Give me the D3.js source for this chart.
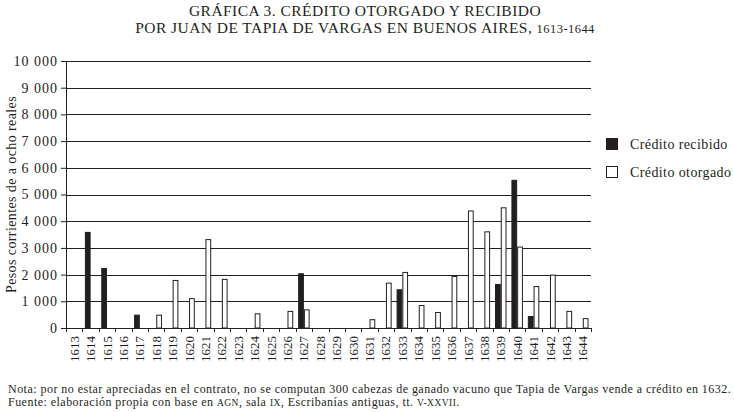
<!DOCTYPE html>
<html>
<head>
<meta charset="utf-8">
<script src="https://cdn.jsdelivr.net/npm/d3@7"></script>
<style>
  body { margin: 0; background: #fff; }
  svg text { font-family: "Liberation Serif", "DejaVu Serif", serif; fill: #231f20; }
</style>
</head>
<body>
<div id="chart"></div>
<script>
const years = ['1613', '1614', '1615', '1616', '1617', '1618', '1619', '1620', '1621', '1622', '1623',
  '1624', '1625', '1626', '1627', '1628', '1629', '1630', '1631', '1632', '1633', '1634', '1635',
  '1636', '1637', '1638', '1639', '1640', '1641', '1642', '1643', '1644']
const recibido = [0, 3600, 2250, 0, 500, 0, 0, 0, 0, 0, 0, 0, 0, 0, 2050, 0,
  0, 0, 0, 0, 1450, 0, 0, 0, 0, 0, 1650, 5550, 450, 0, 0, 0]
const otorgado = [0, 0, 0, 0, 0, 500, 1800, 1120, 3330, 1840, 0, 550, 0, 640, 700, 0,
  0, 0, 330, 1700, 2100, 860, 600, 1950, 4400, 3620, 4520, 3050, 1570, 2000, 640, 370]
const yTicks = [0, 1000, 2000, 3000, 4000, 5000, 6000, 7000, 8000, 9000, 10000]
const seriesNames = ['Crédito recibido', 'Crédito otorgado']

const ink = '#231f20'
const W = 734, H = 412
const margin = { top: 61, right: 143, bottom: 84, left: 66 }
const width = W - margin.left - margin.right
const height = H - margin.top - margin.bottom

const svg = d3.select('#chart').append('svg')
  .attr('width', W)
  .attr('height', H)

// title
const title = svg.append('text')
  .attr('text-anchor', 'middle')
  .style('font-size', '15.5px')
  .style('letter-spacing', '0.45px')
title.append('tspan').attr('x', 365).attr('y', 15.8).text('GRÁFICA 3. CRÉDITO OTORGADO Y RECIBIDO')
const t2 = title.append('tspan').attr('x', 365).attr('y', 33.2)
t2.append('tspan').text('POR JUAN DE TAPIA DE VARGAS EN BUENOS AIRES, ')
t2.append('tspan').style('font-size', '12.5px').text('1613-1644')

const g = svg.append('g')
  .attr('transform', 'translate(' + margin.left + ',' + margin.top + ')')

const x = d3.scaleBand()
  .domain(years)
  .range([0, width])
  .paddingInner(0.3)
  .paddingOuter(0.15)
const xSub = d3.scaleBand()
  .domain(seriesNames)
  .range([0, x.bandwidth()])
const y = d3.scaleLinear()
  .domain([0, 10000])
  .range([height, 0])

const loc = d3.formatLocale({ decimal: ',', thousands: ' ', grouping: [3], currency: ['', ''] })
const fmt = loc.format(',d')

// gridlines
g.append('g')
  .selectAll('line')
  .data(yTicks)
  .join('line')
  .attr('x1', 0)
  .attr('x2', width)
  .attr('y1', d => Math.round(y(d)) + 0.5)
  .attr('y2', d => Math.round(y(d)) + 0.5)
  .attr('stroke', ink)
  .attr('stroke-width', 1)

// Y axis
const yAxis = g.append('g')
  .call(d3.axisLeft(y).tickValues(yTicks).tickSize(5).tickPadding(3).tickFormat(fmt))
yAxis.attr('font-family', null)
yAxis.select('.domain').attr('stroke', ink).attr('d', 'M0.5,' + height + 'V0')
yAxis.selectAll('.tick line').attr('stroke', ink)
yAxis.selectAll('.tick text')
  .style('font-size', '14px')
  .style('letter-spacing', '1px')
  .attr('fill', ink)

svg.append('text')
  .attr('transform', 'translate(16,' + (margin.top + height / 2) + ') rotate(-90)')
  .attr('text-anchor', 'middle')
  .style('font-size', '14px')
  .style('letter-spacing', '0.4px')
  .text('Pesos corrientes de a ocho reales')

// X axis ticks at band boundaries
const step = x.step()
const bounds = years.map(d => x(d) - step * x.paddingInner() / 2)
bounds.push(width)
g.append('g')
  .selectAll('line')
  .data(bounds)
  .join('line')
  .attr('x1', d => Math.round(d) + 0.5)
  .attr('x2', d => Math.round(d) + 0.5)
  .attr('y1', height)
  .attr('y2', height + 4)
  .attr('stroke', ink)

g.append('g')
  .selectAll('text')
  .data(years)
  .join('text')
  .attr('transform', d => 'translate(' + (x(d) + x.bandwidth() / 2) + ',' + (height + 8) + ') rotate(-90)')
  .attr('text-anchor', 'end')
  .attr('dy', '0.35em')
  .style('font-size', '13px')
  .text(d => d)

// bars
const rows = years.map((yr, i) => ({ yr, vals: [recibido[i], otorgado[i]] }))
const grp = g.append('g')
  .selectAll('g')
  .data(rows)
  .join('g')
  .attr('transform', d => 'translate(' + x(d.yr) + ',0)')
grp.selectAll('rect')
  .data(d => d.vals.map((v, k) => ({ key: seriesNames[k], v })).filter(e => e.v > 0))
  .join('rect')
  .attr('x', d => xSub(d.key) + 0.5)
  .attr('width', xSub.bandwidth() - 1)
  .attr('y', d => y(d.v) + 0.5)
  .attr('height', d => height - y(d.v) - 0.5)
  .attr('fill', d => d.key === seriesNames[0] ? ink : '#fff')
  .attr('stroke', ink)
  .attr('stroke-width', 1)

// legend
const legend = svg.append('g')
  .attr('transform', 'translate(606,138)')
const li = legend.selectAll('g')
  .data(seriesNames)
  .join('g')
  .attr('transform', (d, i) => 'translate(0,' + i * 28 + ')')
li.append('rect')
  .attr('x', 0.5)
  .attr('y', 0.5)
  .attr('width', 11)
  .attr('height', 11)
  .attr('fill', (d, i) => i === 0 ? ink : '#fff')
  .attr('stroke', ink)
li.append('text')
  .attr('x', 24)
  .attr('y', 10.5)
  .style('font-size', '14px')
  .style('letter-spacing', '0.4px')
  .text(d => d)

// notes
const notes = svg.append('g')
  .style('font-size', '12px')
  .style('letter-spacing', '0.47px')
notes.append('text')
  .attr('x', 8)
  .attr('y', 392.5)
  .text('Nota: por no estar apreciadas en el contrato, no se computan 300 cabezas de ganado vacuno que Tapia de Vargas vende a crédito en 1632.')
const src = notes.append('text')
  .attr('x', 8)
  .attr('y', 406)
src.append('tspan').text('Fuente: elaboración propia con base en ')
src.append('tspan').style('font-size', '9.5px').text('AGN')
src.append('tspan').text(', sala ')
src.append('tspan').style('font-size', '9.5px').text('IX')
src.append('tspan').text(', Escribanías antiguas, tt. ')
src.append('tspan').style('font-size', '9.5px').text('V-XXVII')
src.append('tspan').text('.')
</script>
</body>
</html>
